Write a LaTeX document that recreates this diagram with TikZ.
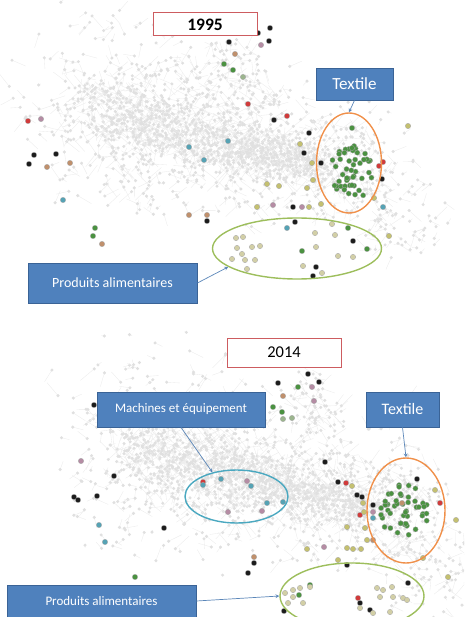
\documentclass[tikz,border=0pt]{standalone}
\usepackage{fontspec}
\setmainfont{Carlito}
\usepackage{tikz}
\usetikzlibrary{shapes.geometric, arrows}

\definecolor{boxblue}{HTML}{4F81BD}
\definecolor{boxedge}{HTML}{3A6396}
\definecolor{yearedge}{HTML}{CD5C60}
\definecolor{ringorange}{HTML}{F0904A}
\definecolor{ringgreen}{HTML}{9DBE5C}
\definecolor{ringteal}{HTML}{4AA8C0}
\definecolor{pointerblue}{HTML}{5A86B8}
\definecolor{netgrey}{HTML}{EBEBEB}
\definecolor{nodegrey}{HTML}{E0E0E0}
\definecolor{dkgreen}{HTML}{4A9240}
\definecolor{blk}{HTML}{1C1C1C}
\definecolor{rd}{HTML}{D23A3A}
\definecolor{mauve}{HTML}{B58CA4}
\definecolor{tan}{HTML}{C0906C}
\definecolor{olive}{HTML}{C4C070}
\definecolor{khaki}{HTML}{D2CFA6}
\definecolor{teal}{HTML}{55A3B5}
\definecolor{sage}{HTML}{9CB58E}

% grey product network: from (#1,#2) to (#3,#4), spread #5, #6 nodes
\newcommand{\netcloud}[6]{%
  \foreach \k in {1,...,#6}{
    \pgfmathsetmacro{\nt}{rnd}
    \pgfmathsetmacro{\nx}{#1+(#3-#1)*\nt+#5*0.65*(rand+rand)/2}
    \pgfmathsetmacro{\ny}{#2+(#4-#2)*\nt+#5*(rand+rand+rand)/3*(1.2-0.65*\nt)}
    \pgfmathsetmacro{\mx}{\nx+14*rand}
    \pgfmathsetmacro{\my}{\ny+14*rand}
    \draw[netline] (\nx,\ny) -- (\mx,\my);
    \fill[netnode] (\nx,\ny) circle (1.7);
  }}
% green textile cluster round (#1,#2)
\newcommand{\greencluster}[4]{%
  \foreach \k in {1,...,48}{
    \pgfmathsetmacro{\ra}{sqrt(rnd)}
    \pgfmathsetmacro{\an}{360*rnd}
    \fill[spot=dkgreen] ({#1+#3*\ra*cos(\an)},{#2+#4*\ra*sin(\an)}) circle (2.6);
  }}
\newcommand{\spots}[2]{\foreach \p in {#2} \fill[spot=#1] \p circle (2.7);}

\begin{document}
\begin{tikzpicture}[
        x=1pt, y=-1pt,
        netline/.style={draw=netgrey, line width=0.35pt},
        netnode/.style={fill=nodegrey},
        spot/.style={fill=#1, draw=black!35, line width=0.3pt},
        yearbox/.style={rectangle, draw=yearedge, line width=1pt, fill=white, inner sep=0pt},
        labelbox/.style={rectangle, draw=boxedge, line width=0.8pt, fill=boxblue, text=white, inner sep=0pt},
        ring/.style={ellipse, draw=#1, line width=1.4pt, inner sep=0pt},
        pointer/.style={draw=pointerblue, line width=0.7pt, ->, >=stealth}
    ]
    \clip (0,0) rectangle (464,617);

    % ---- 1995 ----
    \pgfmathsetseed{11}
    \netcloud{70}{100}{330}{168}{125}{900}
    \netcloud{90}{108}{320}{166}{45}{700}
    \netcloud{340}{140}{410}{240}{80}{160}
    \netcloud{220}{40}{270}{110}{40}{70}
    \greencluster{351}{172}{22}{28}

    \spots{blk}{(270,28),(258,33),(229,42),(269,41),(274,120),(309,133),(304,153),(321,163),(34,155),(56,154),(29,164),(207,221),(293,207),(295,222),(353,241),(316,267),(313,276),(382,179)}
    \spots{rd}{(28,121),(248,104),(287,116),(383,162),(379,166)}
    \spots{mauve}{(41,119),(261,45),(273,205),(302,207)}
    \spots{tan}{(235,54),(47,167),(189,215),(207,215),(102,244),(70,163)}
    \spots{dkgreen}{(224,64),(233,70),(95,228),(93,236),(352,128),(367,249),(302,251),(348,228)}
    \spots{sage}{(243,77)}
    \spots{teal}{(189,147),(228,141),(204,160),(63,200),(383,207),(287,228)}
    \spots{olive}{(267,184),(279,186),(300,144),(312,163),(313,180),(307,188),(321,204),(309,207),(257,207),(408,126),(389,236),(374,198)}
    \spots{khaki}{(236,238),(243,237),(237,248),(252,247),(260,246),(242,254),(232,259),(245,260),(255,260),(247,269),(315,233),(335,235),(316,247),(332,224),(338,256),(353,257),(303,266),(322,273)}

    \node[yearbox, minimum width=104pt, minimum height=23pt, font=\fontsize{17.5}{18}\selectfont\bfseries] (year95) at (205,24.5) {1995};
    \node[labelbox, minimum width=77pt, minimum height=32pt, font=\fontsize{17}{18}\selectfont] (textilelbl95) at (354.5,84) {Textile};
    \node[labelbox, minimum width=169pt, minimum height=40pt, font=\fontsize{14}{15}\selectfont] (foodlbl95) at (112.5,283) {Produits alimentaires};
    \node[ring=ringorange, minimum width=65pt, minimum height=100pt] (textile95) at (349,163) {};
    \node[ring=ringgreen, minimum width=169pt, minimum height=61pt] (food95) at (297,248.5) {};

    \draw[pointer] (textilelbl95.south) -- (textile95.north);
    \draw[pointer] (foodlbl95.east) -- (food95.195);

    % ---- 2014 ----
    \pgfmathsetseed{23}
    \netcloud{110}{435}{380}{510}{125}{950}
    \netcloud{130}{445}{370}{508}{45}{700}
    \netcloud{380}{470}{450}{600}{90}{180}
    \netcloud{300}{380}{330}{430}{40}{60}
    \greencluster{404}{512}{24}{28}

    \spots{blk}{(308,374),(319,382),(278,383),(94,405),(325,462),(114,476),(74,497),(78,500),(97,496),(164,528),(254,563),(248,573),(338,482),(357,495),(362,497),(373,505),(417,479),(347,565),(408,583),(370,610),(284,611),(360,603)}
    \spots{rd}{(346,483),(360,515),(440,503),(203,482),(358,598)}
    \spots{mauve}{(312,387),(314,401),(81,461),(247,481),(324,547),(373,512),(228,512),(262,511)}
    \spots{tan}{(283,396),(254,557),(373,540),(402,503)}
    \spots{dkgreen}{(298,387),(273,407),(282,412),(135,577),(299,595),(310,585)}
    \spots{sage}{(292,418),(283,419)}
    \spots{teal}{(99,525),(105,542),(221,479),(251,486),(203,485),(267,503),(283,502),(373,518)}
    \spots{olive}{(352,486),(363,503),(364,512),(347,527),(365,528),(367,540),(347,548),(353,549),(361,549),(307,549),(435,490),(456,520),(448,577),(338,560),(423,558)}
    \spots{khaki}{(285,593),(293,590),(300,588),(310,587),(293,597),(303,603),(288,603),(377,588),(383,590),(392,587),(380,597),(393,597),(403,598),(407,600),(373,613),(390,612),(360,608)}

    \node[yearbox, minimum width=114pt, minimum height=29pt, font=\fontsize{16.5}{17}\selectfont] (year14) at (284,352.5) {2014};
    \node[labelbox, minimum width=168pt, minimum height=35pt, font=\fontsize{13}{14}\selectfont] (machlbl14) at (181,409.5) {Machines et équipement};
    \node[labelbox, minimum width=73pt, minimum height=35pt, font=\fontsize{16}{17}\selectfont] (textilelbl14) at (402.5,409.5) {Textile};
    \node[labelbox, minimum width=189pt, minimum height=32pt, font=\fontsize{13}{14}\selectfont] (foodlbl14) at (101.5,601) {Produits alimentaires};
    \node[ring=ringteal, minimum width=103pt, minimum height=53pt] (mach14) at (236.5,496.5) {};
    \node[ring=ringorange, minimum width=78pt, minimum height=105pt] (textile14) at (406,510.5) {};
    \node[ring=ringgreen, minimum width=144pt, minimum height=66pt] (food14) at (352,596) {};

    \draw[pointer] (machlbl14.south) -- (mach14.135);
    \draw[pointer] (textilelbl14.south) -- (textile14.north);
    \draw[pointer] (foodlbl14.east) -- (food14.west);
\end{tikzpicture}
\end{document}
